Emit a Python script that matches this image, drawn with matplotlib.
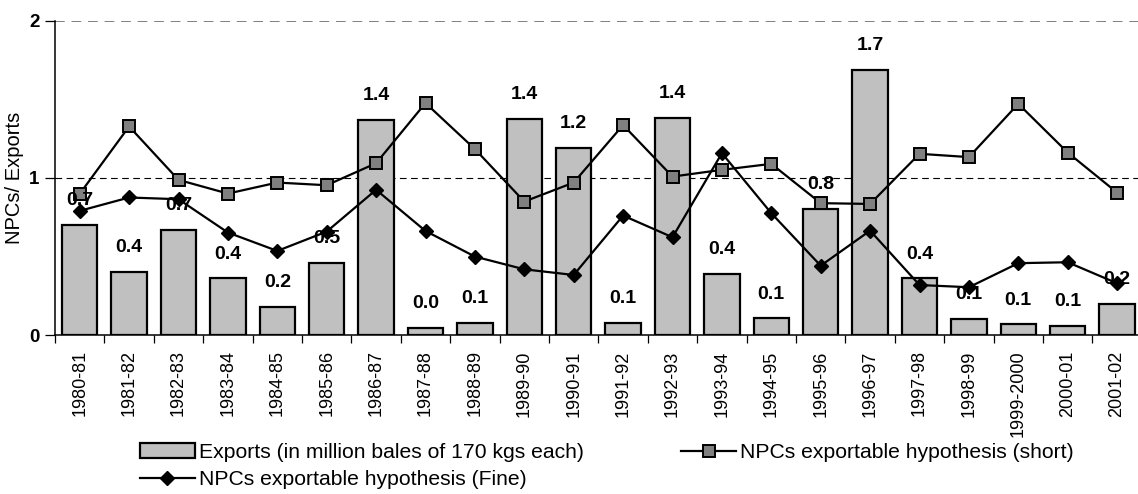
import matplotlib
matplotlib.use("Agg")
import matplotlib.pyplot as plt
import numpy as np

plt.rcParams['font.family'] = ['Liberation Sans', 'DejaVu Sans']

years = ["1980-81", "1981-82", "1982-83", "1983-84", "1984-85", "1985-86",
         "1986-87", "1987-88", "1988-89", "1989-90", "1990-91", "1991-92",
         "1992-93", "1993-94", "1994-95", "1995-96", "1996-97", "1997-98",
         "1998-99", "1999-2000", "2000-01", "2001-02"]
exports = [0.70, 0.40, 0.67, 0.36, 0.18, 0.46, 1.37, 0.043, 0.078, 1.375,
           1.19, 0.078, 1.38, 0.39, 0.106, 0.80, 1.685, 0.36, 0.10, 0.068,
           0.06, 0.197]
npc_short = [0.898, 1.327, 0.987, 0.900, 0.970, 0.953, 1.093, 1.476, 1.183,
             0.849, 0.970, 1.336, 1.008, 1.051, 1.089, 0.839, 0.834, 1.153,
             1.132, 1.471, 1.161, 0.906]
npc_fine = [0.790, 0.875, 0.864, 0.652, 0.535, 0.658, 0.924, 0.662, 0.499,
            0.418, 0.382, 0.760, 0.622, 1.157, 0.775, 0.441, 0.664, 0.318,
            0.304, 0.457, 0.463, 0.329]

W, H = 1138, 494
fig = plt.figure(figsize=(W / 100, H / 100), dpi=100)
ax_left, ax_right = 55, 55 + 22 * 49.4
ax_top, ax_bottom = 20.7, 335
ax = fig.add_axes([ax_left / W, 1 - ax_bottom / H,
                   (ax_right - ax_left) / W, (ax_bottom - ax_top) / H])

x = np.arange(len(years))
ax.axhline(2, color='#808080', lw=1.4, ls=(0, (5, 3.5)), zorder=0)
ax.axhline(1, color='black', lw=0.8, ls=(0, (6, 4)), zorder=0)

bars = ax.bar(x, exports, width=0.72, color='#c0c0c0', edgecolor='black',
              linewidth=1.6, zorder=2,
              label='Exports (in million bales of 170 kgs each)')
l_short, = ax.plot(x, npc_short, color='black', lw=1.6, marker='s', ms=8.4,
                   mfc='#808080', mec='black', mew=1.4, zorder=3,
                   label='NPCs exportable hypothesis (short)')
l_fine, = ax.plot(x, npc_fine, color='black', lw=1.6, marker='D', ms=7.2,
                  mfc='black', mec='black', zorder=4,
                  label='NPCs exportable hypothesis (Fine)')

for xi, v in zip(x, exports):
    ax.annotate(f"{v:.1f}", (xi, v), xytext=(0, 17.5), textcoords='offset points',
                ha='center', va='center', fontsize=14, fontweight='bold', zorder=5)

ax.set_xlim(-0.5, len(years) - 0.5)
ax.set_ylim(0, 2)
ax.set_yticks([0, 1, 2])
ax.set_yticklabels(['0', '1', '2'], fontsize=13.5, fontweight='bold')
ax.set_xticks(x)
ax.set_xticklabels(years, rotation=90, fontsize=13)
ax.set_xticks(np.arange(-0.5, len(years), 1), minor=True)
ax.tick_params(axis='x', which='major', length=0, pad=11)
ax.tick_params(axis='x', which='minor', length=6, width=0.9, direction='out')
ax.tick_params(axis='y', length=7, width=0.9, direction='out', pad=4)
ax.set_ylabel('NPCs/ Exports', fontsize=14.5, labelpad=4)
ax.spines['top'].set_visible(False)
ax.spines['right'].set_visible(False)
ax.spines['left'].set_linewidth(1.1)
ax.spines['bottom'].set_linewidth(1.1)

fig.legend(handles=[bars, l_fine, l_short], loc='upper left',
           bbox_to_anchor=(140 / W, 1 - 443 / H), ncol=2, frameon=False,
           fontsize=15.2, handlelength=2.6, handletextpad=0.2,
           columnspacing=4.6, labelspacing=0.4, borderpad=0, borderaxespad=0)

fig.savefig('out.png', dpi=100)
